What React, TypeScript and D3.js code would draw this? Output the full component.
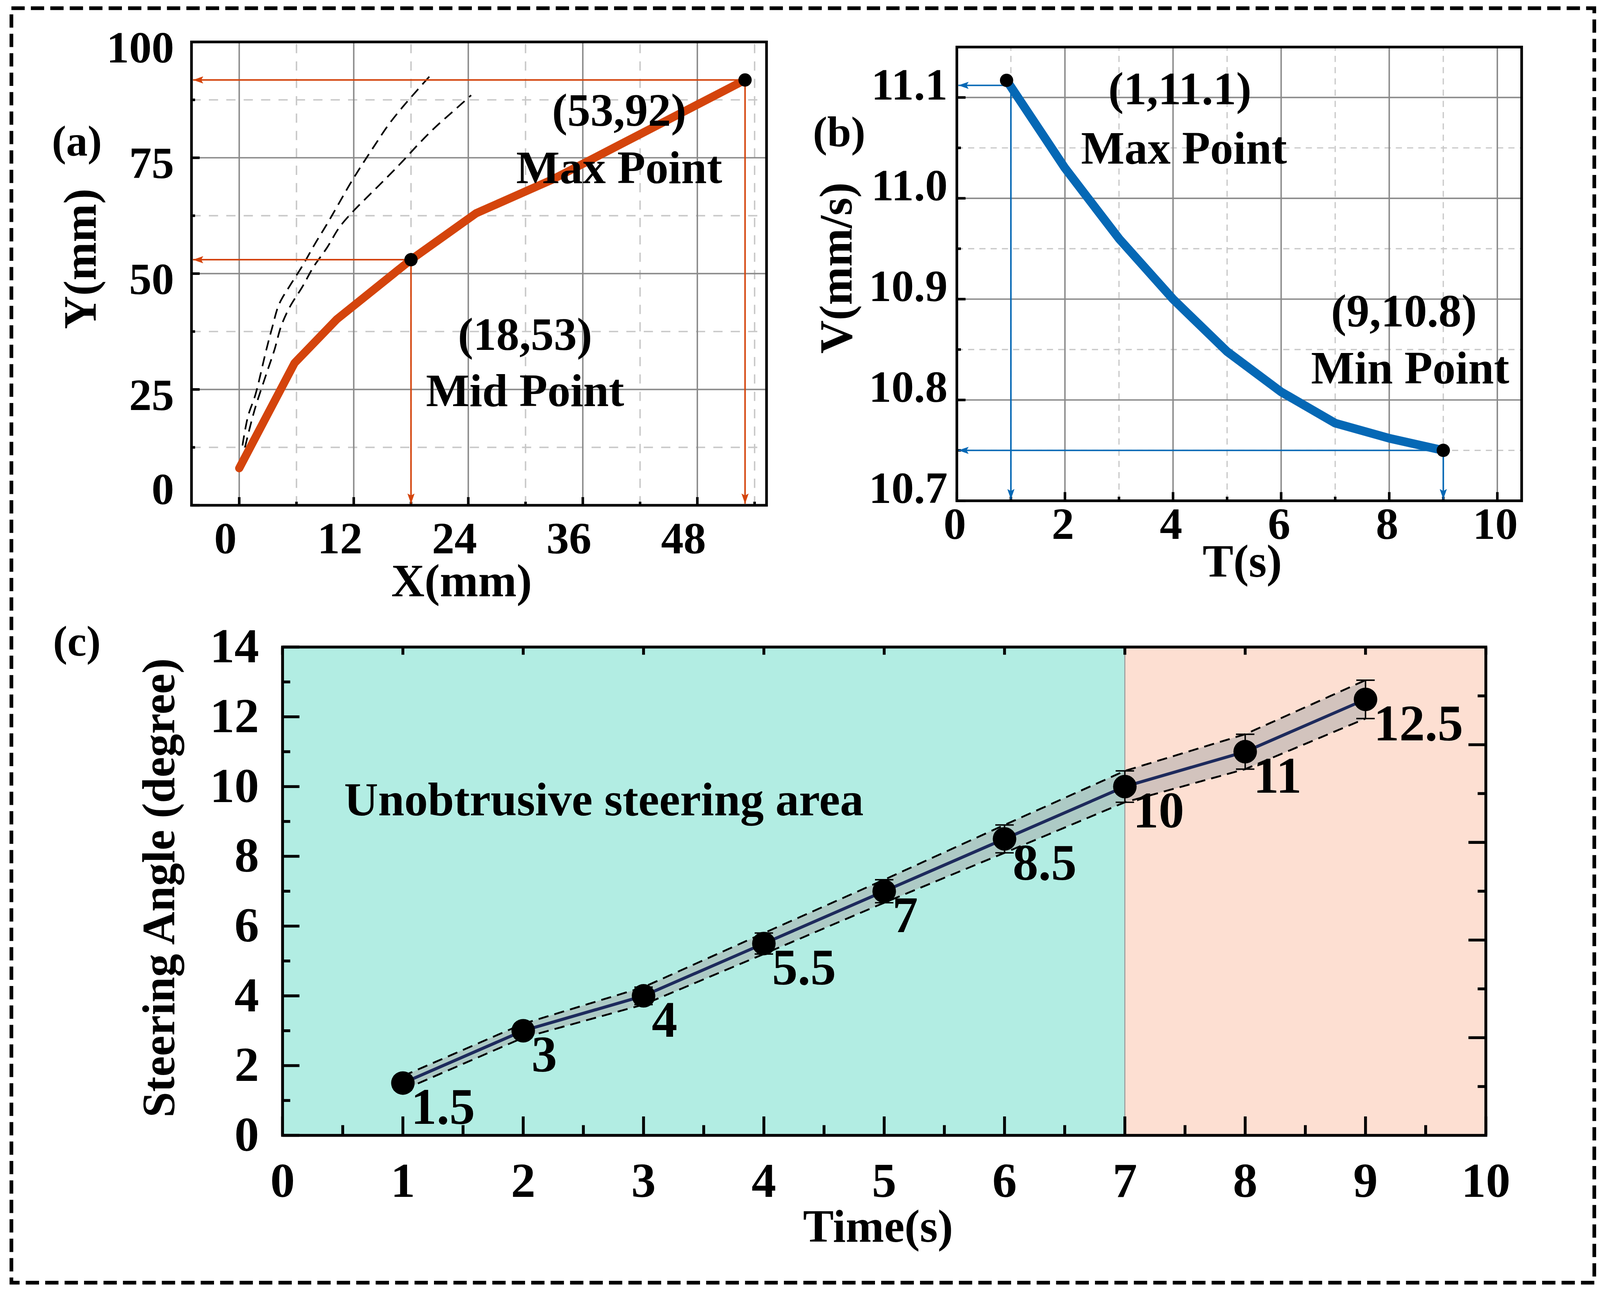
import React from "react"
import * as d3 from "d3"

// overall canvas (drawn in a 1568 x 1269 unit space, scaled up to the page)
const W = 1568
const H = 1269
const FONT = "'Liberation Serif', 'Times New Roman', serif"
const ORANGE = "#d4440c"
const BLUE = "#0568b5"
const NAVY = "#1d2a5c"
const GRID = "#8a8a8a"
const GRID_MINOR = "#c8c8c8"

// (a) trajectory
const trajX = [0, 5.8, 10.2, 18, 24.8, 32.8, 39.3, 53]
const trajY = [8, 30.7, 40.1, 53, 63, 70.3, 77.2, 91.8]
// (a) dashed reference curves
const guideAX = [0.34, 0.92, 1.7, 2.82, 3.46, 4.18, 5.34, 6.63, 7.9, 9.17, 10.4, 11.6, 12.9, 14.2, 15.6, 17.1, 18.7, 20]
const guideAY = [12.9, 19.2, 23.9, 33.4, 38.4, 43.4, 47.5, 51.7, 56.3, 60.6, 65, 69.3, 73.6, 77.7, 82, 85.9, 89.7, 92.7]
const guideBX = [0.6, 1.6, 2.9, 3.7, 4.4, 5.3, 6.6, 7.8, 9.2, 10.5, 12.1, 13.7, 15.5, 17.1, 18.9, 20.6, 22.4, 24.3]
const guideBY = [12.5, 20.5, 28.7, 33.6, 38.7, 42.8, 47.1, 51.5, 55.6, 60, 63.8, 67.1, 70.8, 74.2, 78.2, 81.7, 85, 88.5]
const marksA = [
    { x: 18, y: 53, ax: 18 },
    { x: 53, y: 91.8, ax: 53 },
]
const xTicksA = [0, 12, 24, 36, 48]
const xMinorA = [6, 18, 30, 42, 54]
const yTicksA = [0, 25, 50, 75, 100]
const yMinorA = [12.5, 37.5, 62.5, 87.5]

// (b) speed
const timeB = [0.92, 2, 3, 4, 5, 6, 7, 8, 9]
const speedB = [11.117, 11.03, 10.96, 10.9, 10.848, 10.808, 10.777, 10.762, 10.75]
const marksB = [
    { x: 0.92, y: 11.117, ax: 1, ay: 11.112 },
    { x: 9, y: 10.75, ax: 9, ay: 10.75 },
]
const xTicksB = [0, 2, 4, 6, 8, 10]
const xMinorB = [1, 3, 5, 7, 9]
const yTicksB = [10.7, 10.8, 10.9, 11.0, 11.1]
const yMinorB = [10.75, 10.85, 10.95, 11.05]

// (c) steering angle
const timeC = [1, 2, 3, 4, 5, 6, 7, 8, 9]
const angleC = [1.5, 3, 4, 5.5, 7, 8.5, 10, 11, 12.5]
const errC = [0.2, 0.2, 0.25, 0.3, 0.33, 0.4, 0.45, 0.5, 0.55]
const angleLabels = ["1.5", "3", "4", "5.5", "7", "8.5", "10", "11", "12.5"]
const xTicksC = [0, 1, 2, 3, 4, 5, 6, 7, 8, 9, 10]
const xMinorC = [0.5, 1.5, 2.5, 3.5, 4.5, 5.5, 6.5, 7.5, 8.5, 9.5]
const yTicksC = [0, 2, 4, 6, 8, 10, 12, 14]
const yMinorC = [1, 3, 5, 7, 9, 11, 13]
const rightTicksC = [2, 4, 6, 8]
const rightMinorC = [1, 3, 5, 7, 9]
const zoneSplit = 7

const bold = { fontFamily: FONT, fontWeight: 700 as const }

export default function App() {
    // ----- scales -----
    const xA = d3.scaleLinear().domain([-5, 55.25]).range([187, 749])
    const yA = d3.scaleLinear().domain([0, 100]).range([494, 41])
    const xB = d3.scaleLinear().domain([0, 10.45]).range([935, 1487])
    const yB = d3.scaleLinear().domain([10.7, 11.15]).range([489.6, 46])
    const xC = d3.scaleLinear().domain([0, 10]).range([276, 1452])
    const yC = d3.scaleLinear().domain([0, 14]).range([1110, 632.6])
    const yCR = d3.scaleLinear().domain([0, 10]).range([1110, 632.6])

    const lineA = d3.line<number>().x((_, i) => xA(trajX[i])).y((_, i) => yA(trajY[i]))
    const guideA = d3.line<number>().curve(d3.curveCatmullRom).x((_, i) => xA(guideAX[i])).y((_, i) => yA(guideAY[i]))
    const guideB = d3.line<number>().curve(d3.curveCatmullRom).x((_, i) => xA(guideBX[i])).y((_, i) => yA(guideBY[i]))
    const lineB = d3.line<number>().x((_, i) => xB(timeB[i])).y((_, i) => yB(speedB[i]))
    const lineC = d3.line<number>().x((_, i) => xC(timeC[i])).y((_, i) => yC(angleC[i]))
    const upperC = d3.line<number>().x((_, i) => xC(timeC[i])).y((_, i) => yC(angleC[i] + errC[i]))
    const lowerC = d3.line<number>().x((_, i) => xC(timeC[i])).y((_, i) => yC(angleC[i] - errC[i]))
    const bandC = d3
        .area<number>()
        .x((_, i) => xC(timeC[i]))
        .y0((_, i) => yC(angleC[i] - errC[i]))
        .y1((_, i) => yC(angleC[i] + errC[i]))

    const [a0, a1] = yA.range()
    const [ax0, ax1] = xA.range()
    const [b0, b1] = yB.range()
    const [bx0, bx1] = xB.range()
    const [c0, c1] = yC.range()
    const [cx0, cx1] = xC.range()

    return (
        <div style={{ position: "absolute", left: 0, top: 0, background: "#fff" }}>
            <svg width={4108} height={3324} viewBox={`0 0 ${W} ${H}`} style={{ display: "block" }}>
                <defs>
                    <marker id="arrO" viewBox="0 0 10 10" refX="10" refY="5" markerWidth="10" markerHeight="7"
                        markerUnits="userSpaceOnUse" orient="auto" preserveAspectRatio="none">
                        <path d="M0,0 L10,5 L0,10 L2,5 z" fill={ORANGE} />
                    </marker>
                    <marker id="arrB" viewBox="0 0 10 10" refX="10" refY="5" markerWidth="10" markerHeight="7"
                        markerUnits="userSpaceOnUse" orient="auto" preserveAspectRatio="none">
                        <path d="M0,0 L10,5 L0,10 L2,5 z" fill={BLUE} />
                    </marker>
                </defs>
                <rect x={0} y={0} width={W} height={H} fill="#fff" />

                {/* outer dashed frame */}
                <rect x={11} y={8} width={1547} height={1246} fill="none" stroke="#000" strokeWidth={3.6} strokeDasharray="13,6" />

                {/* ================= (a) ================= */}
                <g>
                    {xMinorA.map((v) => (
                        <line key={"xam" + v} x1={xA(v)} x2={xA(v)} y1={a0} y2={a1} stroke={GRID_MINOR} strokeWidth={1.4} strokeDasharray="9,8" />
                    ))}
                    {yMinorA.map((v) => (
                        <line key={"yam" + v} x1={ax0} x2={ax1} y1={yA(v)} y2={yA(v)} stroke={GRID_MINOR} strokeWidth={1.4} strokeDasharray="9,8" />
                    ))}
                    {xTicksA.map((v) => (
                        <line key={"xag" + v} x1={xA(v)} x2={xA(v)} y1={a0} y2={a1} stroke={GRID} strokeWidth={1.4} />
                    ))}
                    {yTicksA.slice(1, -1).map((v) => (
                        <line key={"yag" + v} x1={ax0} x2={ax1} y1={yA(v)} y2={yA(v)} stroke={GRID} strokeWidth={1.4} />
                    ))}
                    {/* ticks */}
                    {xTicksA.map((v) => (
                        <line key={"xat" + v} x1={xA(v)} x2={xA(v)} y1={a0} y2={a0 - 8} stroke="#000" strokeWidth={2.5} />
                    ))}
                    {xMinorA.map((v) => (
                        <line key={"xatm" + v} x1={xA(v)} x2={xA(v)} y1={a0} y2={a0 - 3.5} stroke="#000" strokeWidth={2.5} />
                    ))}
                    {yTicksA.map((v) => (
                        <line key={"yat" + v} x1={ax0} x2={ax0 + 8} y1={yA(v)} y2={yA(v)} stroke="#000" strokeWidth={2.5} />
                    ))}
                    {yMinorA.map((v) => (
                        <line key={"yatm" + v} x1={ax0} x2={ax0 + 3.5} y1={yA(v)} y2={yA(v)} stroke="#000" strokeWidth={2.5} />
                    ))}

                    {/* dashed reference curves */}
                    <path d={guideA(guideAX) ?? ""} fill="none" stroke="#000" strokeWidth={1.6} strokeDasharray="10,6" />
                    <path d={guideB(guideBX) ?? ""} fill="none" stroke="#000" strokeWidth={1.6} strokeDasharray="10,6" />

                    {/* arrows */}
                    {marksA.map((m) => (
                        <g key={"arA" + m.x}>
                            <line x1={xA(m.x)} x2={ax0 + 1.5} y1={yA(m.y)} y2={yA(m.y)} stroke={ORANGE} strokeWidth={1.5} markerEnd="url(#arrO)" />
                            <line x1={xA(m.ax)} x2={xA(m.ax)} y1={yA(m.y)} y2={a0 - 1.5} stroke={ORANGE} strokeWidth={1.5} markerEnd="url(#arrO)" />
                        </g>
                    ))}

                    {/* trajectory */}
                    <path d={lineA(trajX) ?? ""} fill="none" stroke={ORANGE} strokeWidth={8} strokeLinecap="round" strokeLinejoin="round" />
                    {marksA.map((m) => (
                        <circle key={"dA" + m.x} cx={xA(m.x)} cy={yA(m.y)} r={6.5} fill="#000" />
                    ))}

                    <rect x={ax0} y={a1} width={ax1 - ax0} height={a0 - a1} fill="none" stroke="#000" strokeWidth={2.6} />

                    {/* tick labels */}
                    {xTicksA.map((v) => (
                        <text key={"xal" + v} x={xA(v) - 13.5} y={541} textAnchor="middle" fontSize={44} {...bold}>
                            {v}
                        </text>
                    ))}
                    {yTicksA.map((v) => (
                        <text key={"yal" + v} x={170} y={Math.min(yA(v) + 20, a0 - 1)} textAnchor="end" fontSize={44} {...bold}>
                            {v}
                        </text>
                    ))}
                    <text x={451} y={583} textAnchor="middle" fontSize={45} {...bold}>X(mm)</text>
                    <text transform="translate(78,253) rotate(-90)" textAnchor="middle" dominantBaseline="central" fontSize={45} {...bold}>
                        Y(mm)
                    </text>
                    <text x={75} y={152} textAnchor="middle" fontSize={42} {...bold}>(a)</text>
                    <text x={605} y={123} textAnchor="middle" fontSize={45} {...bold}>(53,92)</text>
                    <text x={605} y={179} textAnchor="middle" fontSize={45} {...bold}>Max Point</text>
                    <text x={513} y={342} textAnchor="middle" fontSize={45} {...bold}>(18,53)</text>
                    <text x={513} y={397} textAnchor="middle" fontSize={45} {...bold}>Mid Point</text>
                </g>

                {/* ================= (b) ================= */}
                <g>
                    {xMinorB.map((v) => (
                        <line key={"xbm" + v} x1={xB(v)} x2={xB(v)} y1={b0} y2={b1} stroke={GRID_MINOR} strokeWidth={1.2} strokeDasharray="6,5" />
                    ))}
                    {yMinorB.map((v) => (
                        <line key={"ybm" + v} x1={bx0} x2={bx1} y1={yB(v)} y2={yB(v)} stroke={GRID_MINOR} strokeWidth={1.2} strokeDasharray="6,5" />
                    ))}
                    {xTicksB.slice(1).map((v) => (
                        <line key={"xbg" + v} x1={xB(v)} x2={xB(v)} y1={b0} y2={b1} stroke={GRID} strokeWidth={1.4} />
                    ))}
                    {yTicksB.slice(1).map((v) => (
                        <line key={"ybg" + v} x1={bx0} x2={bx1} y1={yB(v)} y2={yB(v)} stroke={GRID} strokeWidth={1.4} />
                    ))}
                    {xTicksB.map((v) => (
                        <line key={"xbt" + v} x1={xB(v)} x2={xB(v)} y1={b0} y2={b0 - 8.5} stroke="#000" strokeWidth={2.5} />
                    ))}
                    {xMinorB.map((v) => (
                        <line key={"xbtm" + v} x1={xB(v)} x2={xB(v)} y1={b0} y2={b0 - 4} stroke="#000" strokeWidth={2.5} />
                    ))}
                    {yTicksB.map((v) => (
                        <line key={"ybt" + v} x1={bx0} x2={bx0 + 8.5} y1={yB(v)} y2={yB(v)} stroke="#000" strokeWidth={2.5} />
                    ))}
                    {yMinorB.map((v) => (
                        <line key={"ybtm" + v} x1={bx0} x2={bx0 + 4} y1={yB(v)} y2={yB(v)} stroke="#000" strokeWidth={2.5} />
                    ))}

                    {marksB.map((m) => (
                        <g key={"arB" + m.x}>
                            <line x1={xB(m.x)} x2={bx0 + 1.5} y1={yB(m.ay)} y2={yB(m.ay)} stroke={BLUE} strokeWidth={1.5} markerEnd="url(#arrB)" />
                            <line x1={xB(m.ax)} x2={xB(m.ax)} y1={yB(m.ay)} y2={b0 - 1.5} stroke={BLUE} strokeWidth={1.5} markerEnd="url(#arrB)" />
                        </g>
                    ))}

                    <path d={lineB(timeB) ?? ""} fill="none" stroke={BLUE} strokeWidth={8.5} strokeLinejoin="round" />
                    {marksB.map((m) => (
                        <circle key={"dB" + m.x} cx={xB(m.x)} cy={yB(m.y)} r={6.5} fill="#000" />
                    ))}

                    <rect x={bx0} y={b1} width={bx1 - bx0} height={b0 - b1} fill="none" stroke="#000" strokeWidth={2.6} />

                    {xTicksB.map((v) => (
                        <text key={"xbl" + v} x={xB(v) - 2} y={527} textAnchor="middle" fontSize={44} {...bold}>
                            {v}
                        </text>
                    ))}
                    {yTicksB.map((v) => (
                        <text key={"ybl" + v} x={926} y={yB(v) + 2} textAnchor="end" fontSize={44} {...bold}>
                            {v.toFixed(1)}
                        </text>
                    ))}
                    <text x={1214} y={564} textAnchor="middle" fontSize={45} {...bold}>T(s)</text>
                    <text transform="translate(817,262) rotate(-90)" textAnchor="middle" dominantBaseline="central" fontSize={45} {...bold}>
                        V(mm/s)
                    </text>
                    <text x={820} y={143} textAnchor="middle" fontSize={42} {...bold}>(b)</text>
                    <text x={1153} y={102} textAnchor="middle" fontSize={45} {...bold}>(1,11.1)</text>
                    <text x={1157} y={160} textAnchor="middle" fontSize={45} {...bold}>Max Point</text>
                    <text x={1372} y={319} textAnchor="middle" fontSize={45} {...bold}>(9,10.8)</text>
                    <text x={1378} y={375} textAnchor="middle" fontSize={45} {...bold}>Min Point</text>
                </g>

                {/* ================= (c) ================= */}
                <g>
                    <rect x={cx0} y={c1} width={xC(zoneSplit) - cx0} height={c0 - c1} fill="#b2ede3" />
                    <rect x={xC(zoneSplit)} y={c1} width={cx1 - xC(zoneSplit)} height={c0 - c1} fill="#fddfd2" />
                    <line x1={xC(zoneSplit)} x2={xC(zoneSplit)} y1={c1} y2={c0} stroke="#9a9a9a" strokeWidth={1} />

                    <text x={590} y={797} textAnchor="middle" fontSize={46} {...bold}>Unobtrusive steering area</text>

                    <path d={bandC(timeC) ?? ""} fill="#a8a8a8" fillOpacity={0.5} />
                    <path d={upperC(timeC) ?? ""} fill="none" stroke="#000" strokeWidth={1.8} strokeDasharray="10,6" />
                    <path d={lowerC(timeC) ?? ""} fill="none" stroke="#000" strokeWidth={1.8} strokeDasharray="10,6" />
                    <path d={lineC(timeC) ?? ""} fill="none" stroke={NAVY} strokeWidth={3} />

                    {timeC.map((t, i) => (
                        <g key={"eb" + t} stroke="#000" strokeWidth={1.4}>
                            <line x1={xC(t)} x2={xC(t)} y1={yC(angleC[i] - errC[i])} y2={yC(angleC[i] + errC[i])} />
                            <line x1={xC(t) - 9} x2={xC(t) + 9} y1={yC(angleC[i] - errC[i])} y2={yC(angleC[i] - errC[i])} />
                            <line x1={xC(t) - 9} x2={xC(t) + 9} y1={yC(angleC[i] + errC[i])} y2={yC(angleC[i] + errC[i])} />
                        </g>
                    ))}
                    {timeC.map((t, i) => (
                        <circle key={"dc" + t} cx={xC(t)} cy={yC(angleC[i])} r={11.5} fill="#000" />
                    ))}
                    {timeC.map((t, i) => (
                        <text key={"vl" + t} x={xC(t) + 8} y={yC(angleC[i]) + 40} fontSize={50} {...bold}>
                            {angleLabels[i]}
                        </text>
                    ))}

                    {/* ticks */}
                    {xTicksC.map((v) => (
                        <g key={"xct" + v}>
                            <line x1={xC(v)} x2={xC(v)} y1={c0} y2={c0 - 18.5} stroke="#000" strokeWidth={2.8} />
                            <line x1={xC(v)} x2={xC(v)} y1={c1} y2={c1 + 7.5} stroke="#000" strokeWidth={2.8} />
                        </g>
                    ))}
                    {xMinorC.map((v) => (
                        <line key={"xctm" + v} x1={xC(v)} x2={xC(v)} y1={c0} y2={c0 - 10} stroke="#000" strokeWidth={2.8} />
                    ))}
                    {yTicksC.map((v) => (
                        <line key={"yct" + v} x1={cx0} x2={cx0 + 16.5} y1={yC(v)} y2={yC(v)} stroke="#000" strokeWidth={2.8} />
                    ))}
                    {yMinorC.map((v) => (
                        <line key={"yctm" + v} x1={cx0} x2={cx0 + 7.5} y1={yC(v)} y2={yC(v)} stroke="#000" strokeWidth={2.8} />
                    ))}
                    {rightTicksC.map((v) => (
                        <line key={"rct" + v} x1={cx1} x2={cx1 - 17} y1={yCR(v)} y2={yCR(v)} stroke="#000" strokeWidth={2.8} />
                    ))}
                    {rightMinorC.map((v) => (
                        <line key={"rctm" + v} x1={cx1} x2={cx1 - 8} y1={yCR(v)} y2={yCR(v)} stroke="#000" strokeWidth={2.8} />
                    ))}

                    <rect x={cx0} y={c1} width={cx1 - cx0} height={c0 - c1} fill="none" stroke="#000" strokeWidth={2.8} />

                    {xTicksC.map((v) => (
                        <text key={"xcl" + v} x={xC(v)} y={1170} textAnchor="middle" fontSize={48} {...bold}>
                            {v}
                        </text>
                    ))}
                    {yTicksC.map((v) => (
                        <text key={"ycl" + v} x={253} y={yC(v) + 15} textAnchor="end" fontSize={48} {...bold}>
                            {v}
                        </text>
                    ))}
                    <text x={858} y={1214} textAnchor="middle" fontSize={45} {...bold}>Time(s)</text>
                    <text transform="translate(155,868) rotate(-90)" textAnchor="middle" dominantBaseline="central" fontSize={45} {...bold}>
                        Steering Angle (degree)
                    </text>
                    <text x={75} y={641} textAnchor="middle" fontSize={42} {...bold}>(c)</text>
                </g>
            </svg>
        </div>
    )
}
